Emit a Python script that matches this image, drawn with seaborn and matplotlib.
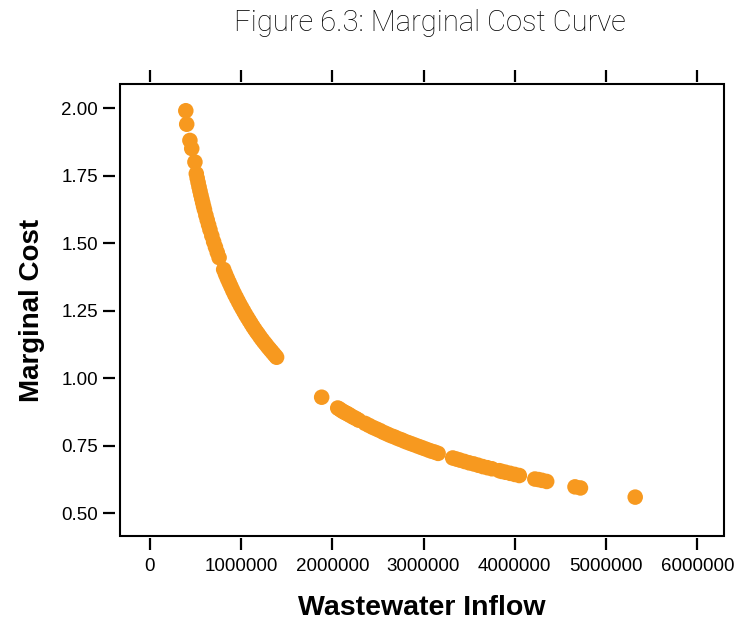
import matplotlib
matplotlib.use('Agg')
import matplotlib.pyplot as plt
import matplotlib.ticker as mticker
import seaborn as sns
import pandas as pd

# Wastewater inflow (upper cluster, then lower cluster) and marginal cost
inflow = [395000, 405000, 440000, 460000, 495000,
          510000, 520000, 530000, 540000, 550000, 560000, 570000, 580000, 590000, 600000,
          615000, 630000, 645000, 660000, 680000, 700000, 720000, 740000, 760000,
          810000, 830000, 850000, 870000, 890000, 910000, 930000, 950000, 970000, 990000,
          1010000, 1030000, 1050000, 1070000, 1090000, 1110000, 1130000, 1150000, 1170000,
          1190000, 1210000, 1230000, 1250000, 1270000, 1290000, 1310000, 1330000, 1350000,
          1370000, 1390000,
          1884000,
          2060000, 2080000, 2100000, 2120000, 2140000, 2160000, 2180000, 2200000, 2230000,
          2260000, 2290000, 2360000, 2400000, 2440000, 2480000, 2520000, 2560000, 2600000,
          2640000, 2680000, 2720000, 2760000, 2800000, 2840000, 2880000, 2920000, 2960000,
          3000000, 3040000, 3080000, 3120000, 3160000,
          3320000, 3360000, 3400000, 3450000, 3500000, 3550000, 3600000, 3650000, 3700000,
          3750000, 3830000, 3860000, 3900000, 3950000, 4000000, 4050000,
          4220000, 4260000, 4300000, 4350000, 4660000, 4720000, 5320000]
cost = [1.99, 1.94, 1.88, 1.85, 1.80,
        1.757, 1.740, 1.724, 1.708, 1.693, 1.678, 1.664, 1.650, 1.636, 1.623,
        1.603, 1.585, 1.567, 1.549, 1.527, 1.505, 1.485, 1.465, 1.446,
        1.402, 1.385, 1.369, 1.354, 1.339, 1.324, 1.310, 1.297, 1.284, 1.271,
        1.259, 1.247, 1.235, 1.224, 1.213, 1.202, 1.191, 1.181, 1.171,
        1.162, 1.152, 1.143, 1.134, 1.126, 1.117, 1.109, 1.101, 1.093,
        1.085, 1.077,
        0.929,
        0.889, 0.885, 0.880, 0.876, 0.872, 0.869, 0.865, 0.861, 0.855,
        0.850, 0.844, 0.832, 0.825, 0.818, 0.812, 0.806, 0.799, 0.793,
        0.787, 0.782, 0.776, 0.771, 0.765, 0.760, 0.755, 0.750, 0.745,
        0.740, 0.735, 0.730, 0.726, 0.721,
        0.704, 0.700, 0.696, 0.691, 0.686, 0.682, 0.677, 0.672, 0.668,
        0.664, 0.657, 0.654, 0.651, 0.647, 0.643, 0.639,
        0.626, 0.624, 0.621, 0.617, 0.597, 0.593, 0.559]

x_ticks = [0, 1000000, 2000000, 3000000, 4000000, 5000000, 6000000]
y_ticks = [0.50, 0.75, 1.00, 1.25, 1.50, 1.75, 2.00]

df = pd.DataFrame({'Wastewater Inflow': inflow, 'Marginal Cost': cost})

sns.set_style('white')
plt.rcParams['font.family'] = ['Liberation Sans', 'DejaVu Sans']
plt.rcParams['text.color'] = 'black'
plt.rcParams['axes.labelcolor'] = 'black'
plt.rcParams['xtick.color'] = 'black'
plt.rcParams['ytick.color'] = 'black'

fig = plt.figure(figsize=(7.34, 6.25), dpi=100)
ax = fig.add_axes([0.163, 0.1424, 0.823, 0.7232])

sns.scatterplot(data=df, x='Wastewater Inflow', y='Marginal Cost', ax=ax,
                color='#F7991F', s=125, edgecolor='none', linewidth=0)

ax.set_xlim(-330000, 6290000)
ax.set_ylim(0.415, 2.089)
ax.set_xticks(x_ticks)
ax.set_yticks(y_ticks)
ax.xaxis.set_major_formatter(mticker.FuncFormatter(lambda v, p: f'{int(v)}'))
ax.yaxis.set_major_formatter(mticker.FormatStrFormatter('%.2f'))

# detached ticks: offset the spines and hide them, draw the box separately
ax.spines['left'].set_position(('outward', 3))
ax.spines['bottom'].set_position(('outward', 1.5))
ax.spines['top'].set_position(('outward', 1.5))
for side in ['left', 'bottom', 'top', 'right']:
    ax.spines[side].set_visible(False)
ax.patch.set_edgecolor('black')
ax.patch.set_linewidth(1.5)

ax.tick_params(axis='both', direction='out', length=8.5, width=1.6,
               labelsize=13.5, pad=4)
ax.tick_params(axis='x', top=True, bottom=True, labeltop=False, pad=6)
ax.tick_params(axis='y', left=True, right=False)

ax.set_xlabel('Wastewater Inflow', fontsize=20.5, fontweight='bold', labelpad=14)
ax.set_ylabel('Marginal Cost', fontsize=20, fontweight='bold', labelpad=12)

fig.text(0.586, 0.963, 'Figure 6.3: Marginal Cost Curve', ha='center', va='center',
         fontsize=21, family='Roboto', fontweight='light', color='black')

plt.savefig('out.png', dpi=100)
